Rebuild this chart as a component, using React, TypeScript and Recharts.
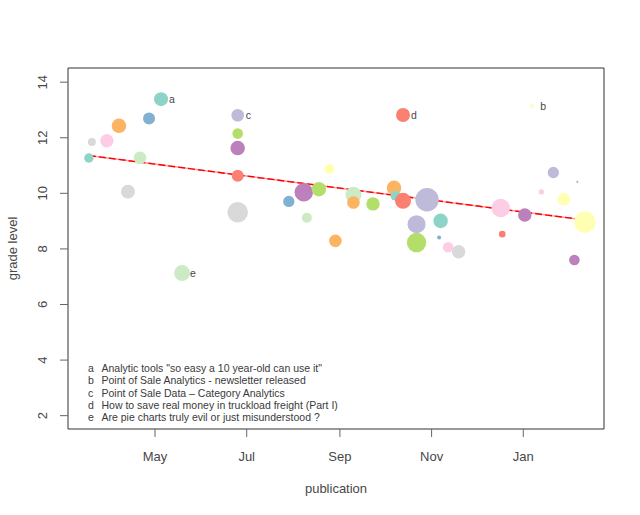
import React from 'react';
import {
  ScatterChart,
  Scatter,
  XAxis,
  YAxis,
  ZAxis,
  Cell,
  ReferenceLine,
  ReferenceArea,
  LabelList,
  Customized,
} from 'recharts';

const PALETTE: Record<string, string> = {
  teal: '#8DD3C7',
  yellow: '#FFFFB3',
  lavender: '#BEBADA',
  salmon: '#FB8072',
  blue: '#80B1D3',
  orange: '#FDB462',
  green: '#B3DE69',
  pink: '#FCCDE5',
  grey: '#D9D9D9',
  purple: '#BC80BD',
  lightgreen: '#CCEBC5',
};

const DATES = [
  '2010-03-18', '2010-03-20', '2010-03-30', '2010-04-07', '2010-04-13', '2010-04-21',
  '2010-04-27', '2010-05-05', '2010-05-19', '2010-06-25', '2010-06-25', '2010-06-25',
  '2010-06-25', '2010-06-25', '2010-07-29', '2010-08-08', '2010-08-10', '2010-08-18',
  '2010-08-25', '2010-08-29', '2010-09-10', '2010-09-10', '2010-09-23', '2010-10-07',
  '2010-10-08', '2010-10-13', '2010-10-13', '2010-10-22', '2010-10-22', '2010-10-29',
  '2010-11-06', '2010-11-07', '2010-11-12', '2010-11-19', '2010-12-17', '2010-12-18',
  '2011-01-02', '2011-01-07', '2011-01-13', '2011-01-21', '2011-01-28', '2011-02-04',
  '2011-02-06', '2011-02-11',
];

const GRADES = [
  11.27, 11.85, 11.89, 12.43, 10.06, 11.28,
  12.69, 13.39, 7.13, 12.81, 12.15, 11.63,
  10.63, 9.32, 9.71, 10.04, 9.12, 10.15,
  10.88, 8.29, 9.95, 9.67, 9.62, 10.2,
  9.91, 12.82, 9.73, 8.89, 8.23, 9.77,
  8.41, 9.01, 8.06, 7.9, 9.47, 8.53,
  9.22, 13.15, 10.05, 10.75, 9.79, 7.6,
  10.42, 8.96,
];

const SIZES = [
  22, 16, 45, 53, 49, 40,
  36, 49, 64, 40, 28, 53,
  36, 106, 32, 86, 25, 53,
  25, 40, 64, 40, 45, 53,
  25, 49, 64, 81, 94, 137,
  4, 53, 28, 45, 86, 11,
  45, 4, 7, 32, 40, 28,
  1, 114,
];

const COLORS = [
  'teal', 'grey', 'pink', 'orange', 'grey', 'lightgreen',
  'blue', 'teal', 'lightgreen', 'lavender', 'green', 'purple',
  'salmon', 'grey', 'blue', 'purple', 'lightgreen', 'green',
  'yellow', 'orange', 'lightgreen', 'orange', 'green', 'orange',
  'teal', 'salmon', 'salmon', 'lavender', 'green', 'lavender',
  'blue', 'teal', 'pink', 'grey', 'pink', 'salmon',
  'purple', 'yellow', 'pink', 'lavender', 'yellow', 'purple',
  'blue', 'yellow',
];

const LABELS = [
  '', '', '', '', '', '',
  '', 'a', 'e', 'c', '', '',
  '', '', '', '', '', '',
  '', '', '', '', '', '',
  '', 'd', '', '', '', '',
  '', '', '', '', '', '',
  '', 'b', '', '', '', '',
  '', '',
];

const TICK_DATES = ['2010-05-01', '2010-07-01', '2010-09-01', '2010-11-01', '2011-01-01'];
const TICK_LABELS = ['May', 'Jul', 'Sep', 'Nov', 'Jan'];
const Y_TICKS = [2, 4, 6, 8, 10, 12, 14];

const TREND_DATES = ['2010-03-18', '2011-02-11'];
const TREND_GRADES = [11.36, 9.04];

const NOTE_KEYS = ['a', 'b', 'c', 'd', 'e'];
const NOTE_TITLES = [
  'Analytic tools "so easy a 10 year-old can use it"',
  'Point of Sale Analytics - newsletter released',
  'Point of Sale Data \u2013 Category Analytics',
  'How to save real money in truckload freight (Part I)',
  'Are pie charts truly evil or just misunderstood ?',
];

const DAY = 86400000;
const toT = (s: string) => Date.parse(s + 'T00:00:00Z');

const X_DOMAIN = [toT('2010-05-01') - 57.9 * DAY, toT('2010-05-01') + 298.7 * DAY];
const Y_DOMAIN = [1.52, 14.51];

const POINTS = DATES.map((d, i) => ({
  t: toT(d),
  grade: GRADES[i],
  z: SIZES[i],
  label: LABELS[i],
}));

const TICK_VALUES = TICK_DATES.map(toT);

const FONT = '"Liberation Sans", Arial, Helvetica, sans-serif';
const TEXT = '#474747';

const XTick = (props: any) => {
  const { x, payload } = props;
  const idx = TICK_VALUES.indexOf(payload.value);
  return (
    <text x={x} y={461} textAnchor="middle" fontSize={13} fill={TEXT} fontFamily={FONT}>
      {idx >= 0 ? TICK_LABELS[idx] : ''}
    </text>
  );
};

const YTick = (props: any) => {
  const { y, payload } = props;
  const bx = 47.5;
  return (
    <text
      x={bx}
      y={y}
      transform={`rotate(-90, ${bx}, ${y})`}
      textAnchor="middle"
      fontSize={13}
      fill={TEXT}
      fontFamily={FONT}
    >
      {payload.value}
    </text>
  );
};

const renderLabel = (props: any) => {
  const { value } = props;
  if (!value) return null;
  const vb = props.viewBox && props.viewBox.width !== undefined ? props.viewBox : props;
  const cx = Number(vb.x) + Number(vb.width || 0) / 2;
  const cy = Number(vb.y) + Number(vb.height || 0) / 2;
  return (
    <text x={cx + 8} y={cy + 4} fontSize={10.5} fill={TEXT} fontFamily={FONT}>
      {value}
    </text>
  );
};

const Overlay = () => (
  <g fontFamily={FONT}>
    <text x={336} y={492.5} textAnchor="middle" fontSize={13} fill={TEXT}>
      publication
    </text>
    <text
      x={16.5}
      y={248.5}
      transform="rotate(-90, 16.5, 248.5)"
      textAnchor="middle"
      fontSize={13}
      fill={TEXT}
    >
      grade level
    </text>
    {NOTE_KEYS.map((k, i) => (
      <g key={k}>
        <text x={88} y={372.3 + i * 12.1} fontSize={10.5} fill="#3a3a3a">
          {k}
        </text>
        <text x={101.5} y={372.3 + i * 12.1} fontSize={10.5} fill="#3a3a3a">
          {NOTE_TITLES[i]}
        </text>
      </g>
    ))}
  </g>
);

export default function App() {
  return (
    <div style={{ position: 'absolute', left: 0, top: 0, background: '#fff' }}>
      <ScatterChart
        width={640}
        height={515}
        margin={{ top: 68, right: 36, bottom: 56, left: 28 }}
      >
        <XAxis
          type="number"
          dataKey="t"
          domain={X_DOMAIN}
          ticks={TICK_VALUES}
          allowDataOverflow
          height={30}
          tickSize={8}
          axisLine={false}
          tickLine={{ stroke: '#666' }}
          tick={<XTick />}
          interval={0}
        />
        <YAxis
          type="number"
          dataKey="grade"
          domain={Y_DOMAIN}
          ticks={Y_TICKS}
          allowDataOverflow
          width={40}
          tickSize={8}
          axisLine={false}
          tickLine={{ stroke: '#666' }}
          tick={<YTick />}
          interval={0}
        />
        <ZAxis type="number" dataKey="z" domain={[0, 144]} range={[0, 144 * Math.PI]} />
        <ReferenceArea
          x1={X_DOMAIN[0]}
          x2={X_DOMAIN[1]}
          y1={Y_DOMAIN[0]}
          y2={Y_DOMAIN[1]}
          fill="none"
          fillOpacity={0}
          stroke="#333"
          strokeWidth={1}
          ifOverflow="visible"
        />
        <Scatter data={POINTS} dataKey="grade" shape="circle" isAnimationActive={false}>
          {POINTS.map((p, i) => (
            <Cell key={i} fill={PALETTE[COLORS[i]]} />
          ))}
          <LabelList dataKey="label" content={renderLabel} />
        </Scatter>
        <ReferenceLine
          segment={[
            { x: toT(TREND_DATES[0]), y: TREND_GRADES[0] },
            { x: toT(TREND_DATES[1]), y: TREND_GRADES[1] },
          ]}
          stroke="#ff9c9c"
          strokeWidth={1.6}
          ifOverflow="visible"
        />
        <ReferenceLine
          segment={[
            { x: toT(TREND_DATES[0]), y: TREND_GRADES[0] },
            { x: toT(TREND_DATES[1]), y: TREND_GRADES[1] },
          ]}
          stroke="#ff0000"
          strokeWidth={1.4}
          strokeDasharray="7 3"
          ifOverflow="visible"
        />
        <Customized component={<Overlay />} />
      </ScatterChart>
    </div>
  );
}
